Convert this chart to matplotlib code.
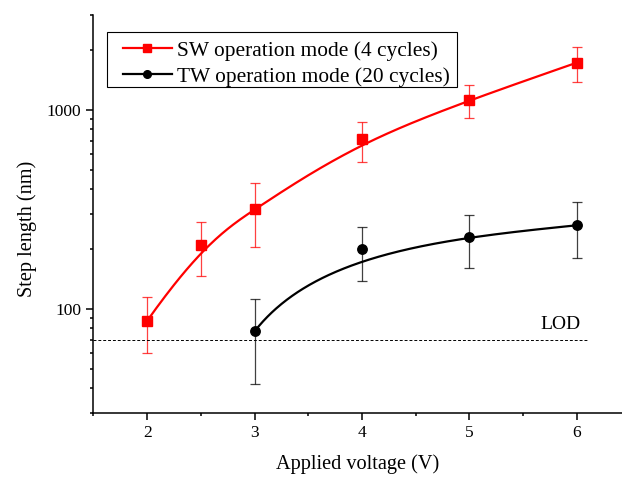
import numpy as np
import matplotlib
matplotlib.use("Agg")
import matplotlib.pyplot as plt
from matplotlib.patches import Rectangle
from matplotlib.ticker import LogLocator, NullFormatter, FuncFormatter, MultipleLocator

plt.rcParams['font.family'] = ['Liberation Serif', 'DejaVu Serif']

# SW operation mode (4 cycles)
sw_v = [2, 2.5, 3, 4, 5, 6]
sw_len = [87, 209, 316, 712, 1123, 1730]
sw_hi = [114, 272, 428, 874, 1336, 2083]
sw_lo = [60, 147, 205, 546, 908, 1378]

# TW operation mode (20 cycles)
tw_v = [3, 4, 5, 6]
tw_len = [77, 199, 230, 263]
tw_hi = [112, 257, 297, 345]
tw_lo = [42, 138, 160, 181]

lod = 70
lod_end = 6.1


def bspline(xs, ys, k=3, num=300, logy=False):
    # clamped B-spline with the data points as control points
    xs = np.asarray(xs, float)
    ys = np.asarray(ys, float)
    if logy:
        ys = np.log10(ys)
    n = len(xs)
    k = min(k, n - 1)
    t = np.concatenate([np.zeros(k), np.linspace(0, 1, n - k + 1), np.ones(k)])
    u = np.linspace(0, 1, num)
    u[-1] -= 1e-9

    def basis(i, p):
        if p == 0:
            return ((t[i] <= u) & (u < t[i + 1])).astype(float)
        out = np.zeros_like(u)
        d1 = t[i + p] - t[i]
        if d1 > 0:
            out += (u - t[i]) / d1 * basis(i, p - 1)
        d2 = t[i + p + 1] - t[i + 1]
        if d2 > 0:
            out += (t[i + p + 1] - u) / d2 * basis(i + 1, p - 1)
        return out

    B = np.array([basis(i, k) for i in range(n)])
    cx, cy = B.T @ xs, B.T @ ys
    if logy:
        cy = 10 ** cy
    return cx, cy


fig = plt.figure(figsize=(6.22, 4.79), dpi=100)
ax = fig.add_axes([0.1503, 0.1384, 0.8632, 0.8299])

series = [
    (sw_v, sw_len, sw_lo, sw_hi, 'red', 's', 'SW operation mode (4 cycles)', True),
    (tw_v, tw_len, tw_lo, tw_hi, 'black', 'o', 'TW operation mode (20 cycles)', False),
]
for v, y, lo, hi, col, mk, lab, logy in series:
    y = np.array(y, float)
    err = [y - np.array(lo), np.array(hi) - y]
    ax.errorbar(v, y, yerr=err, fmt='none', ecolor=col, elinewidth=0.9,
                capsize=3.5, capthick=0.9, alpha=0.75, zorder=2)
    cx, cy = bspline(v, y, logy=logy)
    ax.plot(cx, cy, color=col, lw=1.6, zorder=3)
    ax.plot(v, y, ls='none', marker=mk, ms=6.8, color=col, zorder=4)
    ax.plot([], [], color=col, lw=1.6, marker=mk, ms=5.5, label=lab)

ax.hlines(lod, 1.5, lod_end, colors='black', linestyles=(0, (3, 2)), lw=0.7)
ax.text(6.04, 79, 'LOD', ha='right', va='baseline', fontsize=14)

ax.set_yscale('log')
ax.set_xlim(1.5, 6.5)
ax.set_ylim(30, 3000)
ax.xaxis.set_major_locator(MultipleLocator(1))
ax.xaxis.set_minor_locator(MultipleLocator(0.5))
ax.yaxis.set_major_locator(LogLocator(base=10))
ax.yaxis.set_minor_locator(LogLocator(base=10, subs=np.arange(2, 10)))
ax.yaxis.set_major_formatter(FuncFormatter(lambda val, p: f'{val:g}'))
ax.yaxis.set_minor_formatter(NullFormatter())

for side in ['top', 'right']:
    ax.spines[side].set_visible(False)
for side in ['left', 'bottom']:
    ax.spines[side].set_linewidth(1.1)
ax.tick_params(which='both', direction='out', width=1.1, labelsize=12.5)
ax.tick_params(which='major', length=5, pad=4)
ax.tick_params(which='minor', length=2.5)

ax.set_xlabel('Applied voltage (V)', fontsize=14.6)
ax.set_ylabel('Step length (nm)', fontsize=14.6)
ax.xaxis.set_label_coords(0.4926, -0.105)
ax.yaxis.set_label_coords(-0.106, 0.462)

# legend box drawn separately so the padding can differ per side
ax.add_patch(Rectangle((0.0246, 0.8201), 0.652, 0.1384, transform=ax.transAxes,
                       fill=False, edgecolor='black', lw=0.8, zorder=5))
leg = ax.legend(loc='upper left', bbox_to_anchor=(0.0549, 0.936), fontsize=15.4,
                frameon=False, handlelength=2.29, borderpad=0, labelspacing=0.28,
                handletextpad=0.23, borderaxespad=0)

fig.savefig('out.png', dpi=100)
